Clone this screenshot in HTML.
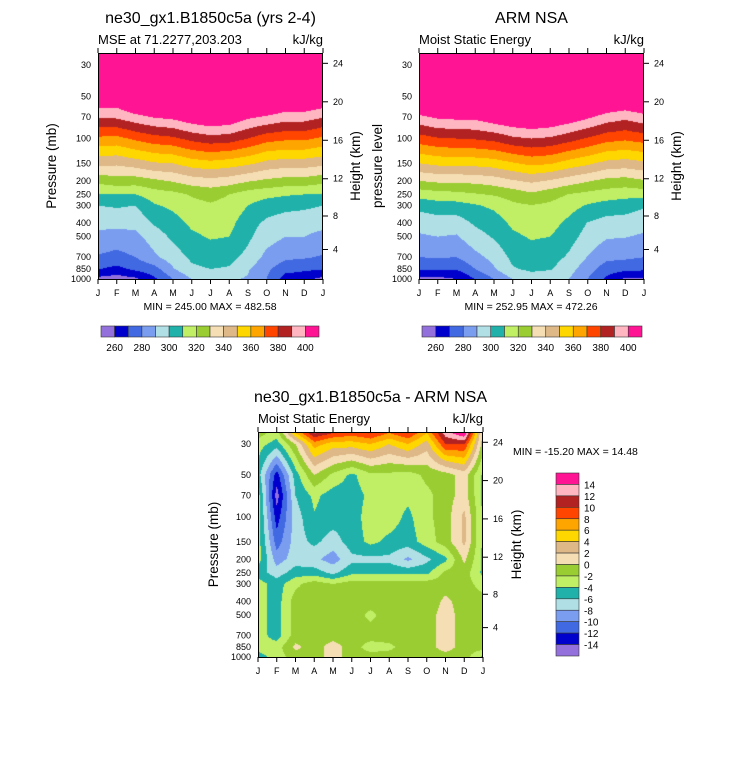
<!DOCTYPE html>
<html><head><meta charset="utf-8">
<style>
html,body{margin:0;padding:0;background:#fff;width:733px;height:768px;overflow:hidden;font-family:"Liberation Sans",Arial,sans-serif;}
canvas{position:absolute;}
svg{position:absolute;left:0;top:0;}
</style></head>
<body>
<canvas id="c1" width="225" height="226" style="left:98px;top:53px"></canvas>
<canvas id="c2" width="225" height="226" style="left:419px;top:53px"></canvas>
<canvas id="c3" width="225" height="225" style="left:258px;top:432px"></canvas>
<svg id="ov" width="733" height="768"></svg>
<script>
// ---- data ----
const months = ['J','F','M','A','M','J','J','A','S','O','N','D','J'];
const levels = [25,30,50,70,100,150,200,250,300,400,500,700,850,1000];
const pressureTicks = [30,50,70,100,150,200,250,300,400,500,700,850,1000];
const heightTicks = [4,8,12,16,20,24];
const mseThresholds = [260,270,280,290,300,310,320,330,340,350,360,370,380,390,400];
const mseBarLabels = [260,280,300,320,340,360,380,400];
const diffThresholds = [-14,-12,-10,-8,-6,-4,-2,0,2,4,6,8,10,12,14];
const colors = ['#9370DB','#0000CD','#4169E1','#7B9DF0','#B0E0E6','#20B2AA','#C0EF66','#9ACD32','#F5DEB3','#DEB887','#FFD700','#FFA500','#FF4500','#B22222','#FFB6C1','#FF1493'];
// model MSE (rows = months, cols = levels)
const modelMSE = [
[447,437,412,391,368,343,323,309,300,293,287,279,270.5,257],
[445,435,410,392,367,342,326,310,301,294,285,277,267,255],
[455,445,420,397,372,345,325,310,300,293,287,280,272,258],
[458,448,423,401,376,349,328,315,309,301,295,288,276,268],
[459,449,424,403,378,350,331,317,312,306,302,295,289,280],
[463,453,428,408,383,355,335,321,317,312,308,302,298,290],
[465,455,430,411,386,357,337,323,319,314,311,304,300,291],
[463,453,428,409,385,355,335,320,317,313,310,303,299,291],
[459,449,424,402,380,352,331,315,310,304,302,297,291,289],
[454,444,419,399,374,347,328,313,305,298,294,287,282,280],
[451,441,416,395,372,345,326,311,303,295,290,282,274,265],
[451,441,416,395,372,345,326,310,302,294,290,281,272,263],
[447,437,412,391,368,343,323,309,300,293,287,279,270.5,257]];
// ARM NSA observed MSE
const obsMSE = [
[466,454,420,398,375.6,350,330,314,303,294,288.6,280,272,257],
[468,457,424,402,379,352.6,332,316,305.5,295.5,290,280.6,271.8,257],
[468,457,425,403,380,353.6,332,317,306,295,289,280,270.5,260],
[468,457,425,403,381,353.6,333,319,309,301.5,296,287,280,270],
[472,461,429,408,383,355,335,321,312,305,301,293,289,280],
[472,464,433,411,388,359,339,324,318,312,308,302.5,299,290],
[472,466,435,413,390,362.6,342,328,319.5,314.5,311,305,302,295],
[472,464,433,411,388.5,361,339,324,318,313.6,310,304,301,292],
[472,461,429,407,384,356,335,319.5,314,307.5,304,298.5,294,290],
[468,456,424,402,379,352,331,317,309,299.5,296,289.5,284,280],
[465,452,418,396,374,347,327,315,306,296,291,282.5,275,268],
[462,449,415,393,372,345.5,326,313.4,304.5,295.6,290.4,281.7,272.9,258],
[465,453,419,397,374.7,348,329,314,301,294,288.4,280,271.8,258]];
// model - obs difference
const diffMSE = [
[-1,-3,-5,-3,-3,-3,-3,-5,-3,-3,-3,-3,-3,-5],
[-3,-5,-13,-15,-13,-11,-9,-7,-5,-5,-5,-5,-3,-3],
[6,0,-5,-6,-7,-7,-7,-5,-2.5,-1,-1,-1,0.5,-1],
[12,7,0,-3.5,-4.2,-5.5,-7.5,-5,-1,-1,-1,-1,-1,-1],
[10,5,-2.5,-5,-5,-7,-9,-6.5,-2,-1,-1,-1,1,1],
[9,5,-4.5,-5,-5,-5,-6.5,-4.5,-1,-1,-1,-1,-1,-1],
[10,6,-2.5,-3.5,-3,-3.5,-6.5,-4.5,-1,-1,-2.5,-1,-3,-1],
[8,4,-2.5,-3,-3,-4.5,-6.5,-4.5,-1,-1,-1,-1,-2.5,-1],
[10,6,-3,-3.5,-4.5,-5,-8.5,-4.5,-1,-1,-1,-1,-1,-1],
[6,3,-1.5,-2.5,-2.5,-3,-6.5,-4.5,-1,-1.5,-1,-1,-1,-1],
[13,10,-1,-1,-1,-1,-4.5,-1.5,-1,0.5,1,1,1,-1],
[16,10,1,1,2.5,2.5,0.5,-1,-1,-1,-1,-1,-1,-1],
[-1,-1,-4.5,-4.5,-4.5,-4.5,-4.5,-4.5,-3,-1,-1,-1,-1,-4.5]];

// ---- scales ----
const P_TOP = 24.6, LNR = Math.log(1000/P_TOP);
function yOfP(p, y0, h){ return y0 + h - Math.log(1000/p)/LNR*h; }
function xOfM(i, x0, w){ return x0 + i/12*w; }
function pOfZ(z){ return z<=11 ? 1013.25*Math.pow(1-0.0065*z*1000/288.15,5.2559) : 226.32*Math.exp(-(z-11)/6.3416); }
function rgb(h){ return [parseInt(h.substr(1,2),16),parseInt(h.substr(3,2),16),parseInt(h.substr(5,2),16)]; }
const rgbs = colors.map(rgb);

function drawField(id, grid, thr){
  const cv = document.getElementById(id), ctx = cv.getContext('2d');
  const W = cv.width, H = cv.height, img = ctx.createImageData(W,H);
  const lnL = levels.map(Math.log);
  for(let py=0; py<H; py++){
    const lp = Math.log(P_TOP) + (py+0.5)/H*LNR;
    let k=0; while(k<levels.length-2 && lp>lnL[k+1]) k++;
    const t = (lp-lnL[k])/(lnL[k+1]-lnL[k]);
    for(let px=0; px<W; px++){
      const m = (px+0.5)/W*12; let i=Math.min(11,Math.floor(m)); const f=m-i;
      const a = grid[i][k]*(1-t)+grid[i][k+1]*t;
      const b = grid[i+1][k]*(1-t)+grid[i+1][k+1]*t;
      const v = a*(1-f)+b*f;
      let c=0; while(c<thr.length && v>=thr[c]) c++;
      const o=(py*W+px)*4, col=rgbs[c];
      img.data[o]=col[0]; img.data[o+1]=col[1]; img.data[o+2]=col[2]; img.data[o+3]=255;
    }
  }
  ctx.putImageData(img,0,0);
}
drawField('c1', modelMSE, mseThresholds);
drawField('c2', obsMSE, mseThresholds);
drawField('c3', diffMSE, diffThresholds);

// ---- overlay ----
const NS='http://www.w3.org/2000/svg', ov=document.getElementById('ov');
function el(tag, attrs, name, txt){
  const e=document.createElementNS(NS,tag);
  for(const k in attrs) e.setAttribute(k, attrs[k]);
  
  
  if(txt!==undefined) e.textContent=txt;
  ov.appendChild(e); return e;
}
function txt(x,y,s,size,anchor,name,rot){
  const a={x:x,y:y,'font-size':size,'text-anchor':anchor||'start',fill:'#000','font-family':'Liberation Sans, sans-serif'};
  if(rot) a.transform='rotate(-90 '+x+' '+y+')';
  return el('text',a,name,s);
}
function panel(x0,y0,w,h,o){
  el('rect',{x:x0+0.5,y:y0+0.5,width:w-1,height:h,fill:'none',stroke:'#000','stroke-width':1},'plot-frame');
  months.forEach((m,i)=>{
    const x=xOfM(i,x0,w);
    el('line',{x1:x,y1:y0,x2:x,y2:y0-5,stroke:'#000'},'top-month-tick');
    el('line',{x1:x,y1:y0+h,x2:x,y2:y0+h+5,stroke:'#000'},'bottom-month-tick');
    txt(x,y0+h+17,m,9,'middle','month-label');
  });
  pressureTicks.forEach(p=>{
    txt(x0-7,yOfP(p,y0,h)+3,String(p),9,'end','pressure-tick-label');
  });
  heightTicks.forEach(z=>{
    const y=yOfP(pOfZ(z),y0,h);
    el('line',{x1:x0+w,y1:y,x2:x0+w+5,y2:y,stroke:'#000'},'height-tick');
    txt(x0+w+10,y+3,String(z),9,'start','height-tick-label');
  });
  txt(x0+w/2,y0-30,o.title,16,'middle','panel-title');
  txt(x0,y0-9,o.sub,13,'start','panel-subtitle');
  txt(x0+w,y0-9,'kJ/kg',13,'end','units-label');
  txt(x0-o.ylx,y0+h/2,o.ylab,13.5,'middle','y-axis-title',true);
  txt(x0+w+o.yrx,y0+h/2,'Height (km)',13.5,'middle','height-axis-title',true);
}
panel(98,53,225,226,{title:'ne30_gx1.B1850c5a (yrs 2-4)',sub:'MSE at 71.2277,203.203',ylab:'Pressure (mb)',ylx:42,yrx:37});
panel(419,53,225,226,{title:'ARM NSA',sub:'Moist Static Energy',ylab:'pressure level',ylx:37,yrx:37});
panel(258,432,225,225,{title:'ne30_gx1.B1850c5a - ARM NSA',sub:'Moist Static Energy',ylab:'Pressure (mb)',ylx:40,yrx:38});
txt(210,310,'MIN = 245.00 MAX = 482.58',10.5,'middle','min-max-text');
txt(531,310,'MIN = 252.95 MAX = 472.26',10.5,'middle','min-max-text');
txt(513,455,'MIN = -15.20 MAX =  14.48',10.5,'start','min-max-text');

function hbar(x0,y0,w,h){
  const bw=w/colors.length;
  colors.forEach((c,i)=>{ el('rect',{x:x0+i*bw,y:y0,width:bw,height:h,fill:c,stroke:'#333','stroke-width':0.6},'colorbar-box'); });
  mseBarLabels.forEach(v=>{
    const idx=mseThresholds.indexOf(v);
    txt(x0+(idx+1)*bw,y0+h+14,String(v),10,'middle','colorbar-label');
  });
}
hbar(101,326,218,11);
hbar(422,326,220,11);
function vbar(x0,y0,w,h){
  const n=colors.length, bh=h/n;
  for(let i=0;i<n;i++){
    el('rect',{x:x0,y:y0+i*bh,width:w,height:bh,fill:colors[n-1-i],stroke:'#333','stroke-width':0.6},'colorbar-box');
  }
  for(let j=0;j<diffThresholds.length;j++){
    const v=diffThresholds[diffThresholds.length-1-j];
    txt(x0+w+5,y0+(j+1)*bh+4,String(v),10,'start','colorbar-label');
  }
}
vbar(556,473,23,183);
</script>
</body></html>
